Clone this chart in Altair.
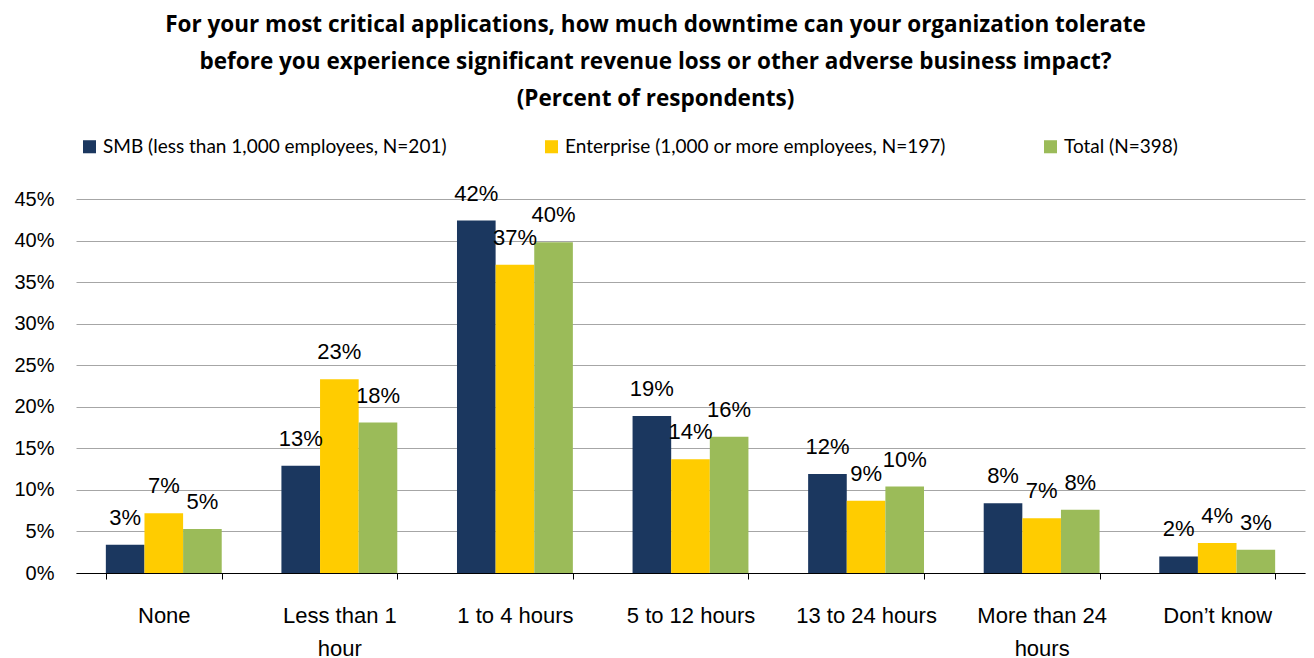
import altair as alt
import pandas as pd

categories = ["None", "Less than 1 hour", "1 to 4 hours", "5 to 12 hours",
              "13 to 24 hours", "More than 24 hours", "Don’t know"]
wrapped = {"Less than 1 hour": ["Less than 1", "hour"],
           "More than 24 hours": ["More than 24", "hours"]}
series = ["SMB (less than 1,000 employees, N=201)",
          "Enterprise (1,000 or more employees, N=197)",
          "Total (N=398)"]
smb = [3.4, 12.9, 42.4, 18.9, 11.9, 8.4, 2.0]
ent = [7.2, 23.3, 37.1, 13.7, 8.7, 6.6, 3.6]
tot = [5.3, 18.1, 39.8, 16.4, 10.4, 7.6, 2.8]
colors = ["#1B375F", "#FFCC00", "#9BBB59"]
y_ticks = [0, 0.05, 0.10, 0.15, 0.20, 0.25, 0.30, 0.35, 0.40, 0.45]

rows = []
for s, vals in zip(series, [smb, ent, tot]):
    for c, v in zip(categories, vals):
        rows.append({"category": c, "series": s, "value": v / 100})
df = pd.DataFrame(rows)

label_expr = ""
for k, parts in wrapped.items():
    label_expr += "datum.label == '%s' ? [%s] : " % (k, ", ".join("'%s'" % p for p in parts))
label_expr += "datum.label"

x = alt.X("category:N", sort=categories,
          scale=alt.Scale(paddingInner=0.34, paddingOuter=0.17),
          axis=alt.Axis(title=None, labelAngle=0, labelFont="Liberation Sans",
                        labelFontSize=22, labelColor="black", domainColor="black",
                        tickColor="black", tickSize=6, tickBand="extent",
                        labelPadding=26, labelExpr=label_expr, labelLineHeight=33,
                        grid=False))
xo = alt.XOffset("series:N", sort=series,
                 scale=alt.Scale(paddingInner=0, paddingOuter=0))
y = alt.Y("value:Q", scale=alt.Scale(domain=[0, 0.45], nice=False),
          axis=alt.Axis(format=".0%", values=y_ticks, title=None, domain=False,
                        ticks=False, labelFont="Liberation Sans", labelFontSize=20,
                        labelPadding=22, gridColor="#A6A6A6", gridWidth=1,
                        labelColor="black"))
color = alt.Color("series:N", sort=series,
                  scale=alt.Scale(domain=series, range=colors),
                  legend=alt.Legend(title=None, orient="none", direction="horizontal",
                                    legendX=4, legendY=-62, symbolType="square",
                                    symbolSize=170, symbolStrokeWidth=0,
                                    labelFont="Lato", labelFontSize=19,
                                    labelColor="black", labelLimit=1000,
                                    columnPadding=95, labelOffset=4, padding=0))

bars = alt.Chart(df).mark_bar().encode(x=x, xOffset=xo, y=y, color=color)
labels = alt.Chart(df).mark_text(font="Liberation Sans", fontSize=22, color="black",
                                 baseline="alphabetic", dy=-20).encode(
    x=x, xOffset=xo, y=y, text=alt.Text("value:Q", format=".0%"))

chart = (bars + labels).properties(
    width=1229, height=374,
    padding={"left": 68, "top": 191, "right": 1, "bottom": 95},
    autosize=alt.AutoSizeParams(type="none"),
    title=alt.TitleParams(
        ["For your most critical applications, how much downtime can your organization tolerate",
         "before you experience significant revenue loss or other adverse business impact?",
         "(Percent of respondents)"],
        font="Open Sans", fontSize=22.5, fontWeight="bold", color="black",
        anchor="middle", frame="group", dx=-35, lineHeight=37, offset=27),
).configure_view(stroke=None)

chart.save("out.html", embed_options={"renderer": "svg", "actions": False})
